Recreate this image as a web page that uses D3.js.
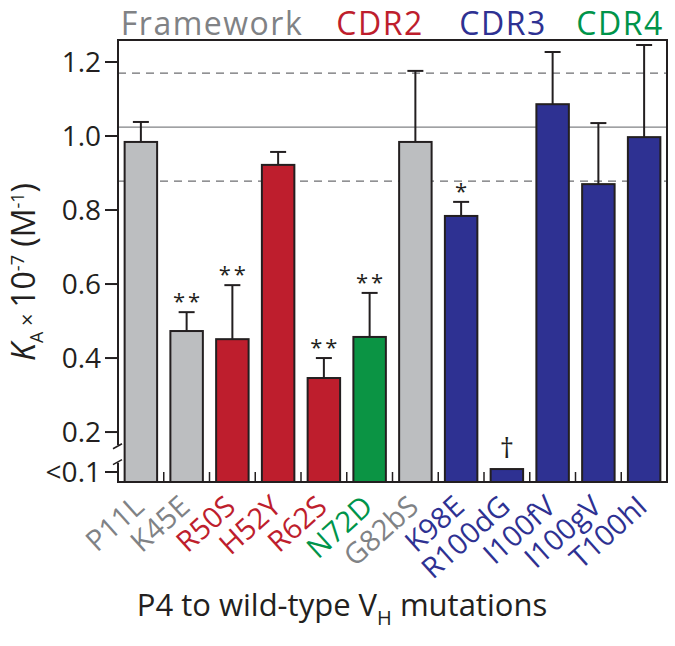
<!DOCTYPE html>
<html><head><meta charset="utf-8">
<script src="https://cdn.jsdelivr.net/npm/d3@7"></script>
<style>
html,body{margin:0;padding:0;background:#fff;}
svg{display:block;font-family:"Open Sans",sans-serif;}
</style></head>
<body><svg id="chart" width="675" height="646"></svg>
<script>
const categories = ["P11L","K45E","R50S","H52Y","R62S","N72D","G82bS","K98E","R100dG","I100fV","I100gV","T100hI"];
const regions = ["Framework","Framework","CDR2","CDR2","CDR2","CDR4","Framework","CDR3","CDR3","CDR3","CDR3","CDR3"];
const values = [0.984, 0.473, 0.451, 0.922, 0.346, 0.457, 0.984, 0.784, 0.100, 1.086, 0.870, 0.997];
const errors = [0.054, 0.051, 0.146, 0.035, 0.054, 0.119, 0.192, 0.038, 0, 0.141, 0.165, 0.249];
const significance = ["", "**", "**", "", "**", "**", "", "*", "\u2020", "", "", ""];
const yTickValues = [0.092, 0.2, 0.4, 0.6, 0.8, 1.0, 1.2];
const yTickLabels = ["<0.1", "0.2", "0.4", "0.6", "0.8", "1.0", "1.2"];
const wtMean = 1.024;
const wtSD = 0.146;
const regionNames = ["Framework", "CDR2", "CDR3", "CDR4"];
const regionText = {Framework: "#808285", CDR2: "#be1e2d", CDR3: "#2e3192", CDR4: "#00944a"};
const regionFill = {Framework: "#bcbec0", CDR2: "#be1e2d", CDR3: "#2e3192", CDR4: "#0b9444"};

const svg = d3.select("#chart");
const L = 118, R = 667, T = 40, B = 482;

const x = d3.scaleBand().domain(categories).range([L, R]).paddingInner(0.29).paddingOuter(0.145);
const y = d3.scaleLinear().domain([0.065, 1.2595]).range([B, T]);

// reference lines
svg.append("line").attr("x1", L).attr("x2", R).attr("y1", y(wtMean)).attr("y2", y(wtMean))
  .attr("stroke", "#808285").attr("stroke-width", 1.3);
[wtMean + wtSD, wtMean - wtSD].forEach(v => {
  svg.append("line").attr("x1", L).attr("x2", R).attr("y1", y(v)).attr("y2", y(v))
    .attr("stroke", "#6d6e71").attr("stroke-width", 1.3).attr("stroke-dasharray", "8,6");
});

// bars
const data = categories.map((c, i) => ({c, v: values[i], e: errors[i], r: regions[i], s: significance[i]}));
svg.selectAll("rect.bar").data(data).join("rect").attr("class", "bar")
  .attr("x", d => x(d.c)).attr("width", x.bandwidth())
  .attr("y", d => y(d.v)).attr("height", d => B - y(d.v))
  .attr("fill", d => regionFill[d.r]).attr("stroke", "#231f20").attr("stroke-width", 2);

// error bars
const cap = 8;
data.filter(d => d.e > 0).forEach(d => {
  const cx = x(d.c) + x.bandwidth() / 2;
  svg.append("line").attr("x1", cx).attr("x2", cx).attr("y1", y(d.v)).attr("y2", y(d.v + d.e))
    .attr("stroke", "#231f20").attr("stroke-width", 2);
  svg.append("line").attr("x1", cx - cap).attr("x2", cx + cap).attr("y1", y(d.v + d.e)).attr("y2", y(d.v + d.e))
    .attr("stroke", "#231f20").attr("stroke-width", 2);
});

// significance marks
data.filter(d => d.s).forEach(d => {
  const cx = x(d.c) + x.bandwidth() / 2;
  const top = y(d.v + d.e);
  const isDagger = d.s === "\u2020";
  svg.append("text").attr("x", cx + (isDagger ? 0 : 1.5)).attr("y", isDagger ? top - 11 : top - 3)
    .attr("text-anchor", "middle").attr("font-size", isDagger ? 28 : 22)
    .attr("letter-spacing", isDagger ? 0 : 3)
    .attr("fill", "#231f20").text(d.s);
});

// frame
const frame = svg.append("g").attr("stroke", "#231f20").attr("stroke-width", 2).attr("fill", "none");
frame.append("path").attr("d", `M${L},${y(0.165)}V${T}H${R}V${B}H${L}V${y(0.117)}`);
// axis break slashes
[y(0.163), y(0.12)].forEach(yy => {
  frame.append("line").attr("x1", L - 5).attr("x2", L + 4).attr("y1", yy + 3).attr("y2", yy - 2).attr("stroke-width", 1.5);
});

// bottom inner ticks at band boundaries
const step = x.step();
categories.slice(1).forEach(c => {
  const bx = x(c) - step * x.paddingInner() / 2;
  svg.append("line").attr("x1", bx).attr("x2", bx).attr("y1", B).attr("y2", B - 10)
    .attr("stroke", "#231f20").attr("stroke-width", 1.5);
});

// y ticks
yTickValues.forEach((v, i) => {
  svg.append("line").attr("x1", L - 13).attr("x2", L).attr("y1", y(v)).attr("y2", y(v))
    .attr("stroke", "#231f20").attr("stroke-width", 2);
  svg.append("text").attr("x", L - 17).attr("y", y(v)).attr("dy", "0.36em")
    .attr("text-anchor", "end").attr("font-size", 28).attr("fill", "#231f20").text(yTickLabels[i]);
});

// y axis title
const yt = svg.append("text").attr("transform", "translate(35,272) rotate(-90)")
  .attr("text-anchor", "middle").attr("font-size", 32).attr("fill", "#231f20");
yt.append("tspan").attr("font-style", "italic").text("K");
yt.append("tspan").attr("font-size", 18).attr("dy", 8).text("A");
yt.append("tspan").attr("font-size", 22).attr("dy", -8).text(" \u00d7 ");
yt.append("tspan").text("10");
yt.append("tspan").attr("font-size", 18).attr("dy", -11).text("-7");
yt.append("tspan").attr("dy", 11).text(" (M");
yt.append("tspan").attr("font-size", 18).attr("dy", -11).text("-1");
yt.append("tspan").attr("dy", 11).text(")");

// x labels
svg.selectAll("text.xl").data(data).join("text").attr("class", "xl")
  .attr("transform", d => `translate(${x(d.c) + x.bandwidth() / 2 + 5},${B + 27}) rotate(-42)`)
  .attr("text-anchor", "end").attr("font-size", 29)
  .attr("fill", d => regionText[d.r]).text(d => d.c);

// region headers
const headerX = {Framework: 212, CDR2: 380, CDR3: 503, CDR4: 620};
regionNames.forEach(n => {
  svg.append("text").attr("x", headerX[n]).attr("y", 34.5).attr("text-anchor", "middle")
    .attr("font-size", 32).attr("letter-spacing", 1.5).attr("fill", regionText[n]).text(n);
});

// x axis title
const xt = svg.append("text").attr("x", 342).attr("y", 616).attr("text-anchor", "middle")
  .attr("font-size", 31).attr("fill", "#231f20");
xt.append("tspan").text("P4 to wild-type V");
xt.append("tspan").attr("font-size", 20).attr("dy", 9).text("H");
xt.append("tspan").attr("dy", -9).text(" mutations");
</script></body></html>
